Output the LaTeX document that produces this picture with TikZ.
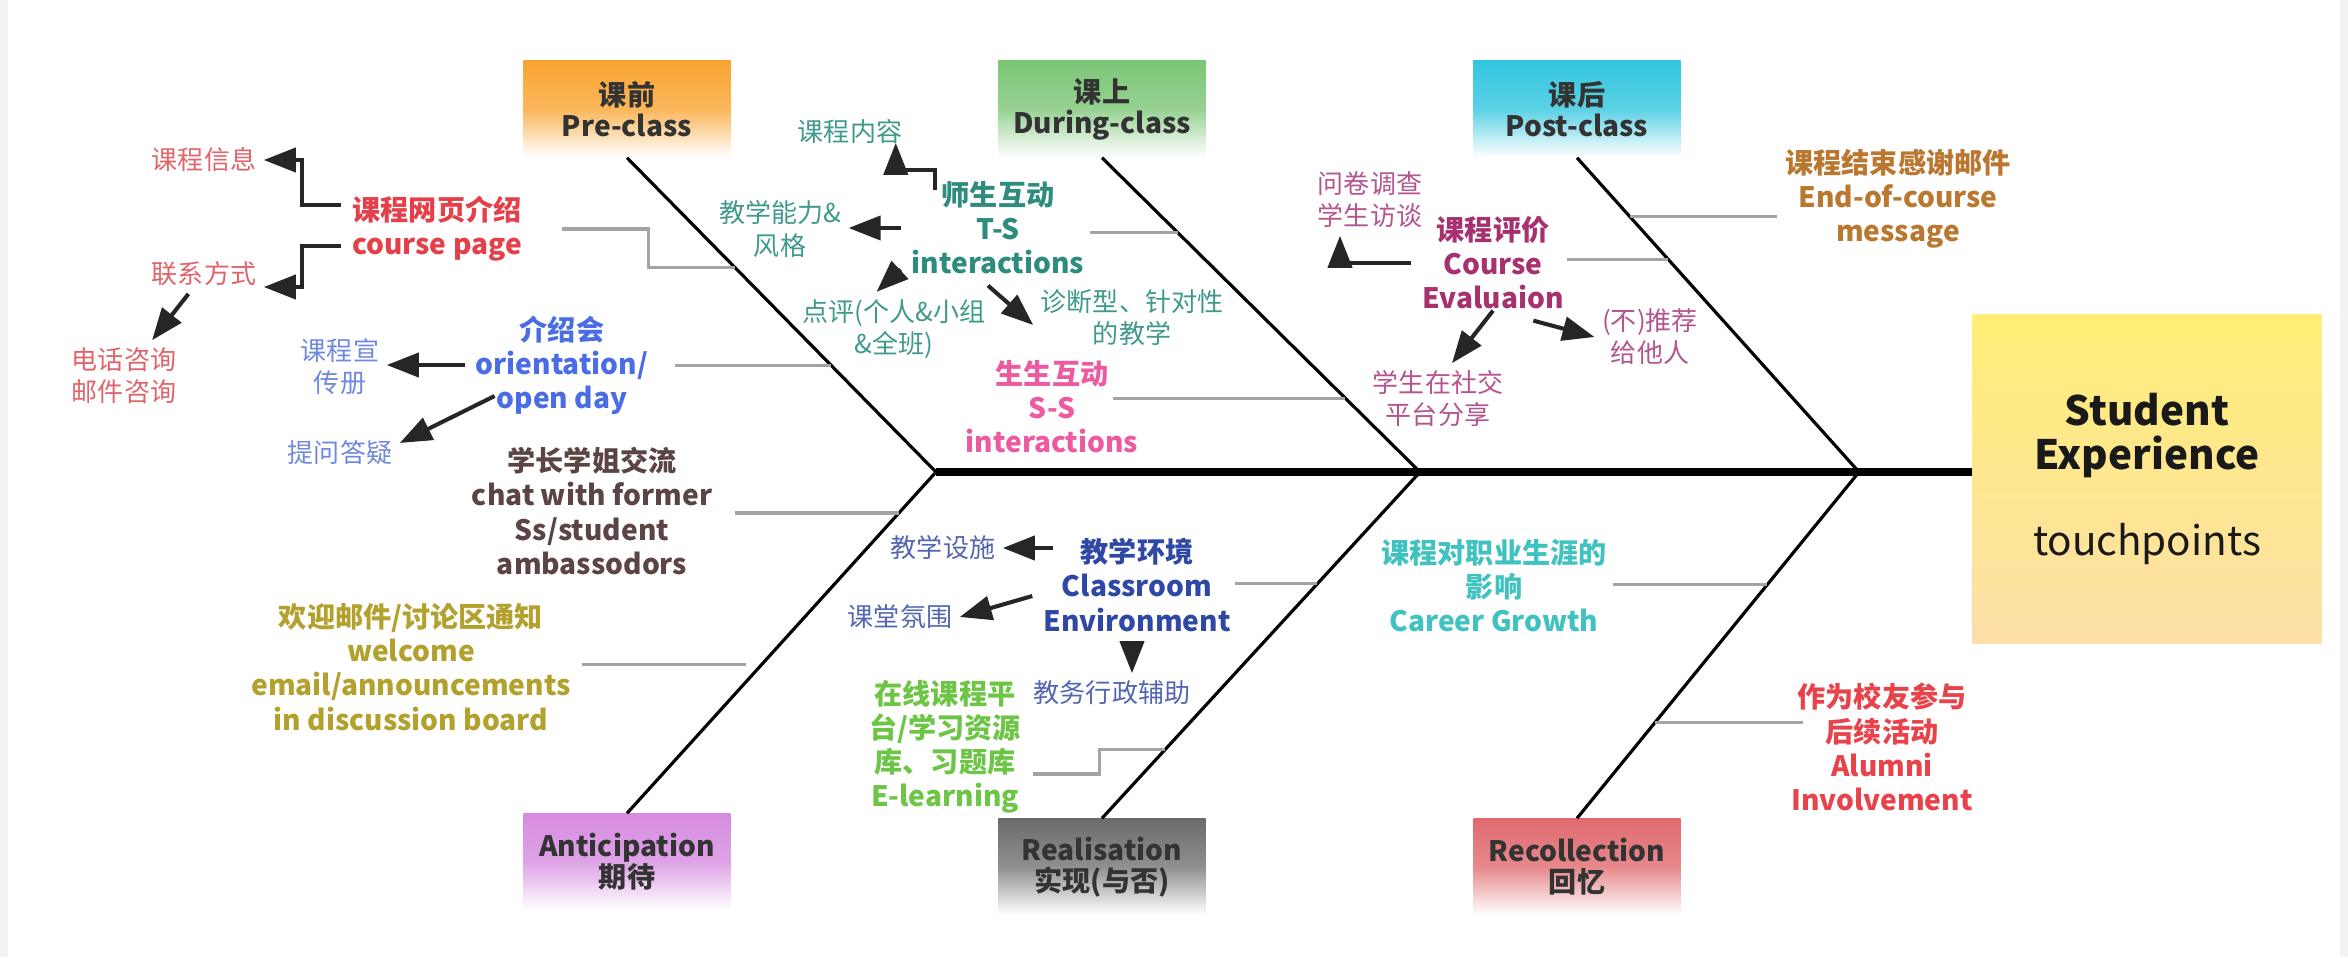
\documentclass[tikz,border=0pt]{standalone}
\usepackage{fontspec}
\setmainfont{Noto Sans CJK SC}
\usetikzlibrary{arrows.meta,calc}

\definecolor{ink}{HTML}{333333}
\definecolor{preC}{HTML}{F9A431}
\definecolor{durC}{HTML}{7CC677}
\definecolor{postC}{HTML}{33C6DF}
\definecolor{antC}{HTML}{D68CE0}
\definecolor{reaC}{HTML}{6B6B6B}
\definecolor{recC}{HTML}{E06B6F}
\definecolor{seTop}{HTML}{FFEE77}
\definecolor{seBot}{HTML}{FDDFA8}
\definecolor{twigC}{HTML}{A3A3A3}
\definecolor{arrC}{HTML}{262626}
\definecolor{redH}{HTML}{E5404A}
\definecolor{redL}{HTML}{E2646B}
\definecolor{blueH}{HTML}{4A6CE4}
\definecolor{blueL}{HTML}{7089DE}
\definecolor{brownH}{HTML}{5C4444}
\definecolor{oliveH}{HTML}{B3A12E}
\definecolor{tealH}{HTML}{2E8C7E}
\definecolor{tealL}{HTML}{3F9A8C}
\definecolor{pinkH}{HTML}{EC5AA2}
\definecolor{plumH}{HTML}{A6316E}
\definecolor{plumL}{HTML}{B4558F}
\definecolor{bronzeH}{HTML}{B9772F}
\definecolor{navyH}{HTML}{2F48A6}
\definecolor{navyL}{HTML}{5466B2}
\definecolor{greenH}{HTML}{6CC545}
\definecolor{cyanH}{HTML}{40C3C0}
\definecolor{scarH}{HTML}{E8434B}

\newcommand\headfont{\fontsize{8}{9.7}\selectfont\bfseries}
\newcommand\leaffont{\fontsize{7.4}{9.1}\selectfont}
\newcommand\stagefont{\fontsize{8}{8.8}\selectfont\bfseries}
\newcommand\goalfont{\fontsize{11.5}{12.6}\selectfont}

\begin{document}
\begin{tikzpicture}[x=0.01cm, y=-0.01cm,
    stage/.style={minimum width=2.07cm, minimum height=0.96cm, align=center,
      font=\stagefont, text=ink, bottom color=white},
    goal/.style={minimum width=3.49cm, minimum height=3.28cm, align=center,
      font=\goalfont, text=black!90, top color=seTop, bottom color=seBot},
    head/.style={align=center, font=\headfont, inner sep=3pt},
    leaf/.style={align=center, font=\leaffont, inner sep=2pt},
    bone/.style={line width=0.9pt},
    spine/.style={line width=2.2pt},
    twig/.style={draw=twigC, line width=0.9pt},
    arr/.style={draw=arrC, line width=1.15pt, -{Triangle[length=3.2mm,width=2.4mm]}}]
    \useasboundingbox (0,0) rectangle (2348,957);
    \fill[black!5] (0,0) rectangle (2348,957);
    \fill[white] (8,0) rectangle (2340,957);

    \node[stage, top color=preC, middle color=preC!80!white] (pre) at (627,109) {课前\\Pre-class};
    \node[stage, top color=durC, middle color=durC!80!white] (dur) at (1102,109) {课上\\During-class};
    \node[stage, top color=postC, middle color=postC!80!white] (post) at (1577,109) {课后\\Post-class};
    \node[stage, top color=antC, middle color=antC!80!white] (ant) at (627,862) {Anticipation\\期待};
    \node[stage, top color=reaC, middle color=reaC!75!white] (rea) at (1102,867) {Realisation\\实现(与否)};
    \node[stage, top color=recC, middle color=recC!80!white] (rec) at (1577,867) {Recollection\\回忆};
    \node[goal] (se) at (2147,479) {\textbf{Student}\\\textbf{Experience}\\[12pt]touchpoints};

    \coordinate (j1) at (936,472);
    \coordinate (j2) at (1420,472);
    \coordinate (j3) at (1859,472);
    \draw[spine] (j1) -- (j1 -| se.west);
    \draw[bone] (pre.south) -- coordinate[pos=.349] (b1a) coordinate[pos=.660] (b1b) (j1);
    \draw[bone] (dur.south) -- coordinate[pos=.238] (b2a) coordinate[pos=.765] (b2b) (j2);
    \draw[bone] (post.south) -- coordinate[pos=.187] (b3a) coordinate[pos=.324] (b3b) (j3);
    \draw[bone] (j1) -- coordinate[pos=.120] (b1c) coordinate[pos=.564] (b1d) (ant.north);
    \draw[bone] (j2) -- coordinate[pos=.323] (b2c) coordinate[pos=.801] (b2d) (rea.north);
    \draw[bone] (j3) -- coordinate[pos=.326] (b3c) coordinate[pos=.723] (b3d) (rec.north);

    \node[head, text=redH] (cpage) at (437,229) {课程网页介绍\\course page};
    \node[leaf, text=redL] (info) at (204,160) {课程信息};
    \node[leaf, text=redL] (contact) at (204,274) {联系方式};
    \node[leaf, text=redL] (phone) at (124,376) {电话咨询\\邮件咨询};
    \node[head, text=blueH] (orient) at (562,365) {介绍会\\orientation/\\open day};
    \node[leaf, text=blueL] (brochure) at (340,367) {课程宣\\传册};
    \node[leaf, text=blueL] (qa) at (340,453) {提问答疑};
    \node[head, text=brownH] (senior) at (592,511) {学长学姐交流\\chat with former\\Ss/student\\ambassodors};
    \node[head, text=oliveH] (welcome) at (411,667) {欢迎邮件/讨论区通知\\welcome\\email/announcements\\in discussion board};

    \node[head, text=tealH] (ts) at (998,228) {师生互动\\T-S\\interactions};
    \node[leaf, text=tealL] (content) at (850,132) {课程内容};
    \node[leaf, text=tealL] (skill) at (780,229) {教学能力\&\\风格};
    \node[leaf, text=tealL] (review) at (894,329) {点评(个人\&小组\\\&全班)};
    \node[leaf, text=tealL] (diag) at (1132,318) {诊断型、针对性\\的教学};
    \node[head, text=pinkH] (ss) at (1052,407) {生生互动\\S-S\\interactions};

    \node[head, text=plumH] (ce) at (1493,263) {课程评价\\Course\\Evaluaion};
    \node[leaf, text=plumL] (survey) at (1370,200) {问卷调查\\学生访谈};
    \node[leaf, text=plumL] (social) at (1438,399) {学生在社交\\平台分享};
    \node[leaf, text=plumL] (recommend) at (1650,337) {(不)推荐\\给他人};
    \node[head, text=bronzeH] (eoc) at (1898,199) {课程结束感谢邮件\\End-of-course\\message};

    \node[head, text=navyH] (cls) at (1137,585) {教学环境\\Classroom\\Environment};
    \node[leaf, text=navyL] (facility) at (943,548) {教学设施};
    \node[leaf, text=navyL] (atmos) at (900,617) {课堂氛围};
    \node[leaf, text=navyL] (admin) at (1112,693) {教务行政辅助};
    \node[head, text=greenH] (elearn) at (945,747) {在线课程平\\台/学习资源\\库、习题库\\E-learning};

    \node[head, text=cyanH] (career) at (1494,586) {课程对职业生涯的\\影响\\Career Growth};
    \node[head, text=scarH] (alumni) at (1882,747) {作为校友参与\\后续活动\\Alumni\\Involvement};

    \coordinate (cp-end) at (562,229);
    \coordinate (or-end) at (675,365);
    \coordinate (ts-end) at (1090,232);
    \coordinate (ss-end) at (1113,398);
    \coordinate (eoc-end) at (1777,216);
    \coordinate (ce-end) at (1567,259);
    \coordinate (sn-end) at (735,513);
    \coordinate (wl-end) at (582,665);
    \coordinate (cls-end) at (1235,584);
    \coordinate (el-end) at (1033,774);
    \coordinate (cg-end) at (1613,585);
    \coordinate (al-end) at (1803,723);
    \draw[twig] (cp-end) -| ($(cp-end)!.5!(b1a)$) |- (b1a);
    \draw[twig] (b1b) -- (b1b -| or-end);
    \draw[twig] (b2a) -- (b2a -| ts-end);
    \draw[twig] (b2b) -- (b2b -| ss-end);
    \draw[twig] (b3a) -- (b3a -| eoc-end);
    \draw[twig] (b3b) -- (b3b -| ce-end);
    \draw[twig] (b1c) -- (b1c -| sn-end);
    \draw[twig, shorten <=0.16cm] (b1d) -- (b1d -| wl-end);
    \draw[twig] (b2c) -- (b2c -| cls-end);
    \draw[twig] (el-end) -| ($(el-end)!.5!(b2d)$) |- (b2d);
    \draw[twig] (b3c) -- (b3c -| cg-end);
    \draw[twig] (b3d) -- (b3d -| al-end);

    \draw[arr] ([yshift=0.24cm]cpage.west) -| ($(cpage.west)!.5!(info.east)$) |- (info.east);
    \draw[arr] ([yshift=-0.17cm]cpage.west) -| ($(cpage.west)!.5!(contact.east)$) |- ([yshift=-0.13cm]contact.east);
    \draw[arr] (contact) -- (phone);
    \draw[arr] (orient.west) -- (orient.west -| brochure.east);
    \draw[arr] ([xshift=0.3cm,yshift=-0.31cm]orient.west) -- ([yshift=0.1cm]qa.east);

    \coordinate (ts-nw) at ([xshift=-0.63cm]ts.north);
    \draw[arr] ([yshift=-0.2cm]ts-nw) -- (ts-nw) -| ([xshift=-0.14cm,yshift=0.09cm]content.south east);
    \draw[arr] (ts.west) -- (ts.west -| skill.east);
    \draw[arr] (ts.203) -- (review.115);
    \draw[arr] ([xshift=-0.1cm]ts.south) -- ([yshift=-0.07cm]diag.west);

    \draw[arr] (ce.west) -| ([xshift=-0.3cm]survey.south);
    \draw[arr] ([yshift=0.1cm]ce.south) -- ([xshift=0.14cm]social.north);
    \draw[arr] (ce.-55) -- (recommend.west);

    \coordinate (cls-nw) at ([xshift=0.21cm]cls.north west);
    \coordinate (cls-s) at ([xshift=-0.05cm]cls.south);
    \draw[arr] (facility.east -| cls-nw) -- (facility.east);
    \draw[arr] ([yshift=-0.11cm]cls.west) -- (atmos.east);
    \draw[arr] (cls-s) -- (cls-s |- admin.north);
\end{tikzpicture}
\end{document}
